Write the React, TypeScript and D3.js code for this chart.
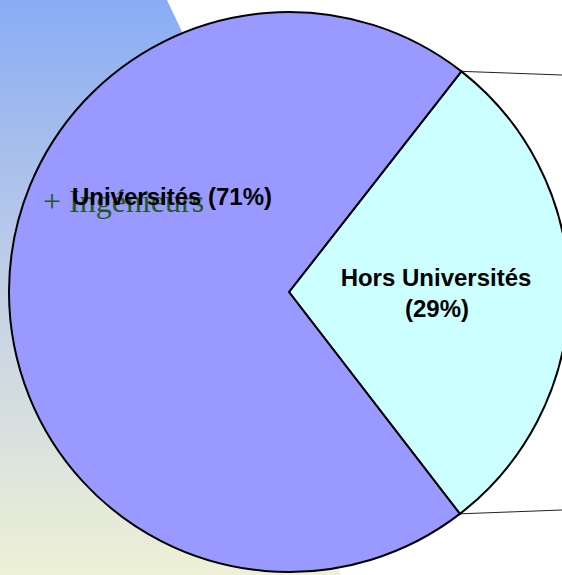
import React from "react";
import * as d3 from "d3";

const categories = ["Hors Universités", "Universités"];
const values = [29, 71];
const percentLabels = ["(29%)", "(71%)"];
const colors = ["#CCFFFF", "#9999FF"];
const overlayText = "+ Ingénieurs";

const W = 562;
const H = 575;
const cx = 289;
const cy = 292;
const R = 280;

export default function App() {
  const pie = d3
    .pie<number>()
    .sort(null)
    .startAngle((38 * Math.PI) / 180)
    .endAngle((38 * Math.PI) / 180 + 2 * Math.PI);
  const arcs = pie(values);
  const arc = d3.arc<d3.PieArcDatum<number>>().innerRadius(0).outerRadius(R);
  const pt = (a: number) => [cx + R * Math.sin(a), cy - R * Math.cos(a)];
  const p1 = pt(arcs[0].startAngle);
  const p2 = pt(arcs[0].endAngle);

  return (
    <svg
      width={W}
      height={H}
      style={{ position: "fixed", left: 0, top: 0 }}
      fontFamily="'Liberation Sans', Arial, sans-serif"
    >
      <defs>
        <linearGradient id="bg" x1="0" y1="0" x2="0" y2="1">
          <stop offset="0" stopColor="#89ACF4" />
          <stop offset="0.5" stopColor="#C2D0E6" />
          <stop offset="1" stopColor="#EEF1D6" />
        </linearGradient>
      </defs>
      <rect x={0} y={0} width={W} height={H} fill="#fff" />
      <polygon points="0,0 167,0 300,280 340,575 0,575" fill="url(#bg)" />
      <line x1={p1[0]} y1={p1[1]} x2={W} y2={75} stroke="#222" strokeWidth={1} />
      <line x1={p2[0]} y1={p2[1]} x2={W} y2={510} stroke="#222" strokeWidth={1} />
      <g transform={`translate(${cx},${cy})`}>
        {arcs.map((a, i) => (
          <path key={categories[i]} d={arc(a) || ""} fill={colors[i]} stroke="#000" strokeWidth={2} strokeLinejoin="miter" />
        ))}
      </g>
      <text x={43} y={212} fontFamily="'Liberation Serif', 'Times New Roman', serif" fontSize={32} fill="#1E5A1E">
        {overlayText}
      </text>
      <text x={172} y={205} textAnchor="middle" fontWeight="bold" fontSize={24} fill="#000">
        {categories[1]} {percentLabels[1]}
      </text>
      <text x={436} y={286} textAnchor="middle" fontWeight="bold" fontSize={24} fill="#000">
        {categories[0]}
      </text>
      <text x={437} y={317} textAnchor="middle" fontWeight="bold" fontSize={24} fill="#000">
        {percentLabels[0]}
      </text>
    </svg>
  );
}
